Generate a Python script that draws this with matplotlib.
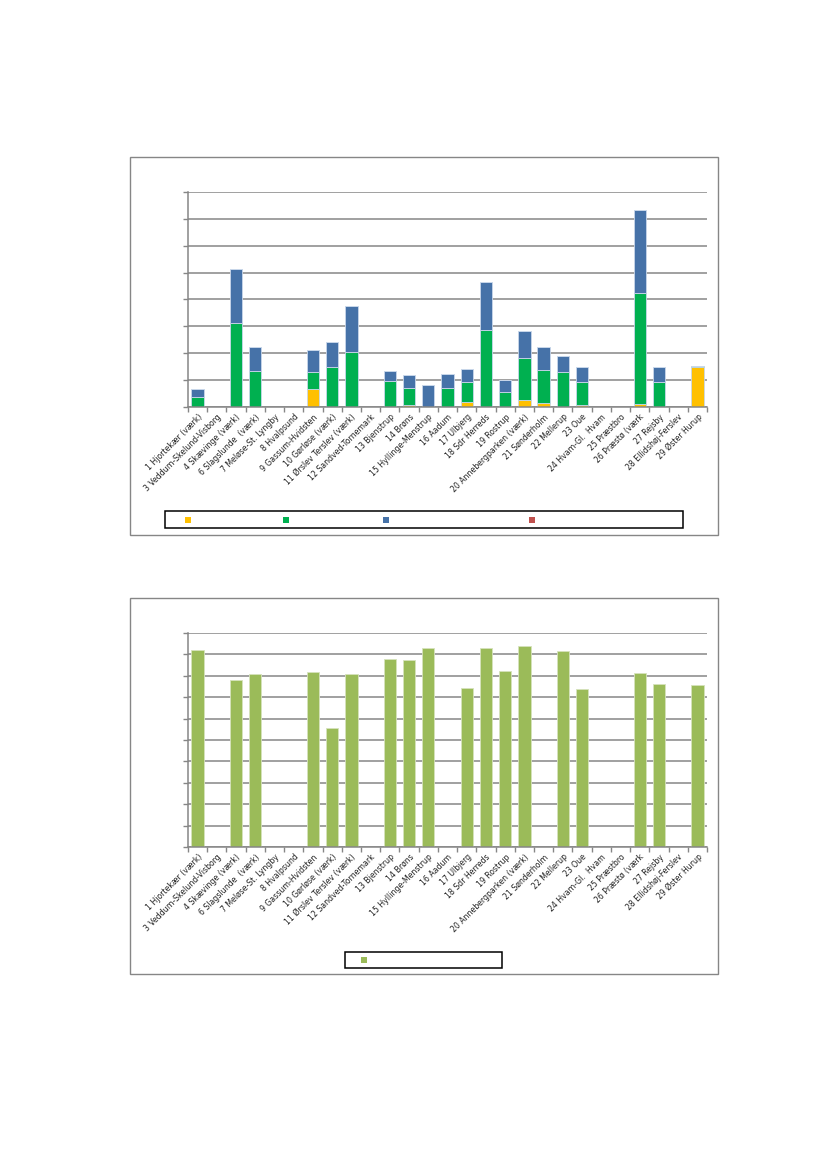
import numpy as np
import matplotlib

matplotlib.use("Agg")
import matplotlib.pyplot as plt
from matplotlib.patches import Rectangle

# Plant names (x categories), shared by both charts
plants = [
    "1 Hjortekær (værk)", "3 Veddum-Skelund-Visborg", "4 Skævinge (værk)",
    "6 Slagslunde  (værk)", "7 Meløse-St. Lyngby", "8 Hvalpsund",
    "9 Gassum-Hvidsten", "10 Gørløse (værk)", "11 Ørslev Terslev (værk)",
    "12 Sandved-Tornemark", "13 Bjenstrup", "14 Brøns", "15 Hyllinge-Menstrup",
    "16 Aadum", "17 Ulbjerg", "18 Sdr Herreds", "19 Rostrup",
    "20 Annebergparken (værk)", "21 Sønderholm", "22 Mellerup", "23 Oue",
    "24 Hvam-Gl.  Hvam", "25 Præstbro", "26 Præstø (værk", "27 Rejsby",
    "28 Ellidshøj-Ferslev", "29 Øster Hurup",
]

# Top chart: stacked segments
yellow = [0, 0, 0, 0, 0, 0, 0.67, 0, 0, 0, 0, 0.06, 0, 0, 0.20, 0, 0,
          0.27, 0.16, 0, 0.06, 0, 0, 0.12, 0, 0, 1.48]
green = [0.38, 0, 3.11, 1.35, 0, 0, 0.64, 1.48, 2.03, 0, 0.96, 0.65, 0,
         0.71, 0.72, 2.87, 0.55, 1.55, 1.23, 1.30, 0.86, 0, 0, 4.12, 0.92,
         0, 0.05]
blue = [0.28, 0, 2.02, 0.87, 0, 0, 0.82, 0.93, 1.72, 0, 0.37, 0.47, 0.83,
        0.53, 0.48, 1.79, 0.44, 1.02, 0.84, 0.60, 0.57, 0, 0, 3.08, 0.58,
        0, 0.01]
red = [0] * len(plants)

# Bottom chart: single series
share = [9.19, 0, 7.82, 8.10, 0, 0, 8.18, 5.57, 8.10, 0, 8.77, 8.74, 9.28,
         0, 7.42, 9.28, 8.24, 9.38, 0, 9.16, 7.39, 0, 0, 8.13, 7.62, 0, 7.57]

c_yellow = "#FFC000"
c_green = "#00B050"
c_blue = "#4672A8"
c_red = "#C0504D"
c_olive = "#9BBB59"
grid_c = "#868686"

W, H = 827, 1169
fig = plt.figure(figsize=(8.27, 11.69), dpi=100)


def px_rect(x0, y0, x1, y1):
    # pixel box (top-left origin) -> figure fraction
    return [x0 / W, 1 - y1 / H, (x1 - x0) / W, (y1 - y0) / H]


def style_axes(ax, ymax):
    x = np.arange(len(plants))
    ax.set_xlim(-0.5, len(plants) - 0.5)
    ax.set_ylim(0, ymax)
    ax.set_yticks(np.arange(0, ymax + 1, 1))
    ax.set_yticklabels([])
    ax.tick_params(axis="y", length=3.5, color=grid_c, width=1)
    ax.yaxis.grid(True, color=grid_c, lw=1.1)
    ax.set_axisbelow(True)
    ax.set_xticks(x)
    ax.set_xticklabels(plants, rotation=45, ha="right", rotation_mode="anchor",
                       fontsize=5.6, color="#222222")
    ax.tick_params(axis="x", length=0, pad=4)
    ax.set_xticks(np.arange(-0.5, len(plants), 1), minor=True)
    ax.tick_params(axis="x", which="minor", length=3.5, color=grid_c, width=1)
    for s in ["top", "right"]:
        ax.spines[s].set_visible(False)
    for s in ["left", "bottom"]:
        ax.spines[s].set_color(grid_c)
        ax.spines[s].set_linewidth(1.1)


def box(x0, y0, x1, y1, color, lw):
    fig.add_artist(Rectangle((x0 / W, 1 - y1 / H), (x1 - x0) / W, (y1 - y0) / H,
                             transform=fig.transFigure, fill=False,
                             edgecolor=color, lw=lw))


def legend_square(cx, cy, color):
    s = 6
    fig.add_artist(Rectangle(((cx - s / 2) / W, 1 - (cy + s / 2) / H), s / W, s / H,
                             transform=fig.transFigure, facecolor=color,
                             edgecolor="none"))


# ---- top chart
box(130, 157, 718, 535, grid_c, 1.0)
ax1 = fig.add_axes(px_rect(188, 192, 707, 407))
x = np.arange(len(plants))
bw = 0.64
bottom = np.zeros(len(plants))
for vals, col in [(yellow, c_yellow), (green, c_green), (blue, c_blue), (red, c_red)]:
    v = np.array(vals, dtype=float)
    ax1.bar(x, v, bw, bottom=bottom, color=col, edgecolor="#c9d7ea", lw=0.6)
    bottom += v
style_axes(ax1, 8)

box(165, 511, 683, 528, "black", 1.1)
for cx, col in [(188, c_yellow), (286, c_green), (386, c_blue), (532, c_red)]:
    legend_square(cx, 520, col)

# ---- bottom chart
box(130, 598, 718, 974, grid_c, 1.0)
ax2 = fig.add_axes(px_rect(188, 633, 707, 847))
ax2.bar(x, share, bw, color=c_olive, edgecolor="#d6e3bc", lw=0.6)
style_axes(ax2, 10)

box(345, 952, 502, 968, "black", 1.1)
legend_square(364, 960, c_olive)

fig.savefig("out.png", dpi=100)
